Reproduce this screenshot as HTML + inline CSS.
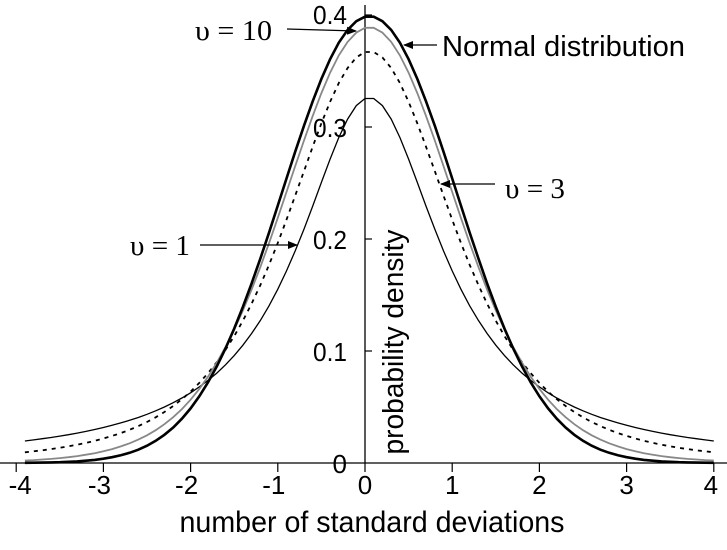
<!DOCTYPE html>
<html><head><meta charset="utf-8"><style>
body{margin:0;background:#fff}
svg{display:block}
text{font-family:"Liberation Sans",Arial,sans-serif;fill:#000}
.ser{font-family:"Liberation Serif","DejaVu Serif",serif}
</style></head><body>
<svg id="s" width="727" height="550" viewBox="0 0 727 550" xmlns="http://www.w3.org/2000/svg">
<defs><marker id="ar" markerWidth="10" markerHeight="8" refX="9" refY="4" orient="auto" markerUnits="userSpaceOnUse"><path d="M0,0 L10,4 L0,8 z" fill="#000"/></marker></defs>
<line x1="0" y1="463" x2="727" y2="463" stroke="#000" stroke-width="1.3"/>
<line x1="365" y1="5" x2="365" y2="463" stroke="#000" stroke-width="1.3"/>
<g id="ticks" stroke="#000" stroke-width="1.2"></g>
<g font-size="26" text-anchor="middle" id="xl"></g>
<g font-size="26" text-anchor="end">
<text x="347" y="24" textLength="34" lengthAdjust="spacingAndGlyphs">0.4</text><text x="347" y="137" textLength="34" lengthAdjust="spacingAndGlyphs">0.3</text><text x="347" y="249" textLength="34" lengthAdjust="spacingAndGlyphs">0.2</text><text x="347" y="361" textLength="34" lengthAdjust="spacingAndGlyphs">0.1</text><text x="347" y="473">0</text>
</g>
<text x="372" y="532" font-size="30" text-anchor="middle" textLength="385" lengthAdjust="spacingAndGlyphs">number of standard deviations</text>
<text transform="translate(403,342) rotate(-90)" font-size="29" text-anchor="middle" textLength="225" lengthAdjust="spacingAndGlyphs">probability density</text>
<g id="curves" fill="none"></g>
<text class="ser" x="195" y="40" font-size="28" textLength="77" lengthAdjust="spacingAndGlyphs">υ = 10</text>
<line x1="287" y1="29" x2="356" y2="31" stroke="#000" stroke-width="1.3" marker-end="url(#ar)"/>
<text x="442" y="56" font-size="29" textLength="243" lengthAdjust="spacingAndGlyphs">Normal distribution</text>
<line x1="437" y1="45" x2="404" y2="45" stroke="#000" stroke-width="1.3" marker-end="url(#ar)"/>
<text class="ser" x="505" y="198" font-size="28" textLength="60" lengthAdjust="spacingAndGlyphs">υ = 3</text>
<line x1="495" y1="184" x2="441" y2="184" stroke="#000" stroke-width="1.3" marker-end="url(#ar)"/>
<text class="ser" x="130" y="255" font-size="28" textLength="60" lengthAdjust="spacingAndGlyphs">υ = 1</text>
<line x1="200" y1="245" x2="297" y2="245" stroke="#000" stroke-width="1.3" marker-end="url(#ar)"/>
</svg>
<script>
var X=function(v){return 365+v*87.2},Y=function(p){return 463-p*1120};
var t=document.getElementById('ticks'),xl=document.getElementById('xl'),ns='http://www.w3.org/2000/svg';
for(var i=-4;i<=4;i++){var l=document.createElementNS(ns,'line');l.setAttribute('x1',X(i));l.setAttribute('x2',X(i));l.setAttribute('y1',463);l.setAttribute('y2',472);t.appendChild(l);
var tx=document.createElementNS(ns,'text');tx.setAttribute('x',X(i)+(i<0?-4:0)+(i==-4?8:0)+(i==4?-3:0));tx.setAttribute('y',494);tx.textContent=i;xl.appendChild(tx);}
for(var j=1;j<=4;j++){var l=document.createElementNS(ns,'line');l.setAttribute('x1',365);l.setAttribute('x2',372);l.setAttribute('y1',Y(j/10));l.setAttribute('y2',Y(j/10));t.appendChild(l);}
function g(z){var c=[676.5203681218851,-1259.1392167224028,771.3234287776531,-176.6150291621406,12.507343278686905,-0.13857109526572012,9.984369578019572e-6,1.5056327351493116e-7];var x=z-1;var a=0.99999999999980993;var tt=x+7.5;for(var k=0;k<8;k++)a+=c[k]/(x+k+1);return Math.sqrt(2*Math.PI)*Math.pow(tt,x+0.5)*Math.exp(-tt)*a;}
function tp(x,n){return g((n+1)/2)/(Math.sqrt(n*Math.PI)*g(n/2))*Math.pow(1+x*x/n,-(n+1)/2);}
function np(x){return Math.exp(-x*x/2)/Math.sqrt(2*Math.PI);}
function path(f,st){var d='';for(var x=-3.95;x<=3.951;x+=0.1){d+=(d?'L':'M')+X(x+0.05).toFixed(1)+','+Y(f(x)).toFixed(1);}
var p=document.createElementNS(ns,'path');p.setAttribute('d',d);for(var k in st)p.setAttribute(k,st[k]);document.getElementById('curves').appendChild(p);}
path(function(x){return tp(x,1)*1.025},{stroke:'#000','stroke-width':1.3});
path(function(x){return tp(x,3)},{stroke:'#000','stroke-width':1.8,'stroke-dasharray':'4,5'});
path(function(x){return tp(x,10)},{stroke:'#888','stroke-width':1.8});
path(np,{stroke:'#000','stroke-width':2.6});
</script>
</body></html>
